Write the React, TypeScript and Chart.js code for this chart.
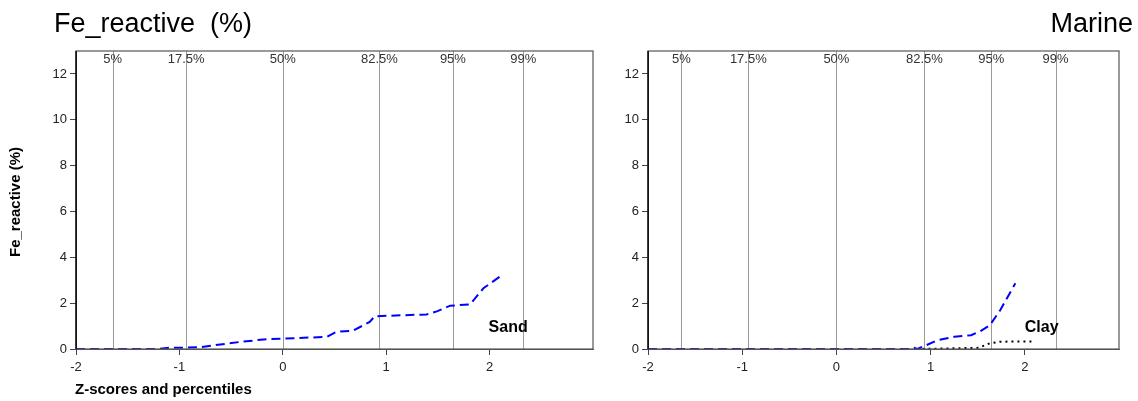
import React, { useEffect, useRef } from "react";
import { Chart, registerables } from "chart.js";

Chart.register(...registerables);

const FONT = "'Liberation Sans', Arial, Helvetica, sans-serif";

const mainTitle = "Fe_reactive  (%)";
const panelTitle = "Marine";
const yAxisTitle = "Fe_reactive (%)";
const xAxisTitle = "Z-scores and percentiles";

const percentileLabels = ["5%", "17.5%", "50%", "82.5%", "95%", "99%"];
const percentileZ = [-1.645, -0.935, 0, 0.935, 1.645, 2.326];

const xTicks = [-2, -1, 0, 1, 2];
const yTicks = [0, 2, 4, 6, 8, 10, 12];

// Sand (left panel)
const sandZ = [-2, -1.2, -1.1, -1.0, -0.8, -0.41, -0.155, 0, 0.425, 0.52, 0.68, 0.84, 0.89, 1.39, 1.49, 1.62, 1.81, 1.94, 2.1];
const sandV = [0, 0, 0.05, 0.05, 0.08, 0.31, 0.43, 0.45, 0.53, 0.75, 0.8, 1.18, 1.43, 1.51, 1.64, 1.89, 1.94, 2.65, 3.16];

// Clay (right panel), blue dashed
const clayZ = [-2, 0.78, 0.82, 0.86, 0.95, 1.07, 1.25, 1.43, 1.53, 1.63, 1.74, 1.9];
const clayV = [0, 0, 0.06, 0.0, 0.16, 0.38, 0.53, 0.6, 0.78, 1.04, 1.7, 2.87];

// Clay (right panel), black dotted
const clay2Z = [0.85, 1.51, 1.63, 1.74, 2.08];
const clay2V = [0, 0.05, 0.25, 0.32, 0.33];

function pts(xs: number[], ys: number[]) {
  return xs.map((x, i) => ({ x, y: ys[i] }));
}

type PanelProps = {
  width: number;
  height: number;
  yWidth: number;
  padRight: number;
  datasets: any[];
  label: string;
  labelX: number;
  labelY: number;
  left: boolean;
};

function Panel(p: PanelProps) {
  const ref = useRef<HTMLCanvasElement | null>(null);
  useEffect(() => {
    if (!ref.current) return;
    const overlay = {
      id: "overlay",
      beforeDatasetsDraw(chart: any) {
        const { ctx, chartArea: a, scales } = chart;
        const xs = scales.x;
        ctx.save();
        // percentile lines
        ctx.strokeStyle = "#9a9a9a";
        ctx.lineWidth = 1;
        percentileZ.forEach((z) => {
          const px = Math.round(xs.getPixelForValue(z)) + 0.5;
          ctx.beginPath();
          ctx.moveTo(px, a.top);
          ctx.lineTo(px, a.bottom);
          ctx.stroke();
        });
        ctx.fillStyle = "#333";
        ctx.font = `13px ${FONT}`;
        ctx.textAlign = "center";
        ctx.textBaseline = "middle";
        percentileZ.forEach((z, i) => {
          const px = xs.getPixelForValue(z);
          ctx.fillText(percentileLabels[i], px, a.top + 8);
        });
        ctx.restore();
      },
      afterDraw(chart: any) {
        const { ctx, chartArea: a, scales } = chart;
        ctx.save();
        // frame
        ctx.strokeStyle = "#555";
        ctx.lineWidth = 1.2;
        ctx.strokeRect(a.left, a.top, a.right - a.left, a.bottom - a.top);
        ctx.strokeStyle = "#000";
        ctx.beginPath();
        ctx.moveTo(a.left, a.top);
        ctx.lineTo(a.left, a.bottom);
        ctx.stroke();
        // label
        ctx.fillStyle = "#000";
        ctx.font = `bold 16px ${FONT}`;
        ctx.textAlign = "left";
        ctx.textBaseline = "middle";
        ctx.fillText(p.label, scales.x.getPixelForValue(p.labelX), scales.y.getPixelForValue(p.labelY));
        // titles
        ctx.font = `27px ${FONT}`;
        ctx.textBaseline = "alphabetic";
        if (p.left) {
          ctx.textAlign = "left";
          ctx.fillText(mainTitle, 54, 32);
          ctx.font = `bold 15px ${FONT}`;
          ctx.fillText(xAxisTitle, 75, 394);
          ctx.translate(20, 202);
          ctx.rotate(-Math.PI / 2);
          ctx.textAlign = "center";
          ctx.fillText(yAxisTitle, 0, 0);
        } else {
          ctx.textAlign = "right";
          ctx.fillText(panelTitle, p.width - 5, 32);
        }
        ctx.restore();
      },
    };
    const chart = new Chart(ref.current, {
      type: "line",
      data: { datasets: p.datasets },
      options: {
        animation: false,
        responsive: false,
        maintainAspectRatio: false,
        layout: { padding: { top: 51, right: p.padRight, left: 0, bottom: 0 } },
        plugins: { legend: { display: false }, tooltip: { enabled: false }, title: { display: false } },
        elements: { point: { radius: 0 }, line: { tension: 0 } },
        scales: {
          x: {
            type: "linear",
            min: -2,
            max: 3,
            afterBuildTicks: (s: any) => {
              s.ticks = xTicks.map((v) => ({ value: v }));
            },
            afterFit: (s: any) => {
              s.height = 52;
            },
            grid: { drawOnChartArea: false, drawTicks: true, tickLength: 6, color: "#444" },
            border: { display: true, color: "#555" },
            ticks: { font: { family: FONT, size: 13 }, color: "#222", padding: 5, maxRotation: 0 },
          },
          y: {
            type: "linear",
            min: 0,
            max: 13,
            afterBuildTicks: (s: any) => {
              s.ticks = yTicks.map((v) => ({ value: v }));
            },
            afterFit: (s: any) => {
              s.width = p.yWidth;
            },
            grid: { drawOnChartArea: false, drawTicks: true, tickLength: 6, color: "#444" },
            border: { display: true, color: "#000" },
            ticks: { font: { family: FONT, size: 13 }, color: "#222", padding: 3 },
          },
        },
      },
      plugins: [overlay],
    } as any);
    return () => chart.destroy();
  }, []);
  return (
    <div style={{ width: p.width, height: p.height, position: "relative" }}>
      <canvas ref={ref} width={p.width} height={p.height} style={{ display: "block" }} />
    </div>
  );
}

export default function App() {
  const blue = {
    borderColor: "#0000ff",
    borderWidth: 2,
    borderDash: [9, 5],
    fill: false,
    pointRadius: 0,
  };
  const leftSets = [{ ...blue, label: "Sand", data: pts(sandZ, sandV) }];
  const rightSets = [
    { ...blue, label: "Clay", data: pts(clayZ, clayV) },
    {
      label: "Clay2",
      data: pts(clay2Z, clay2V),
      borderColor: "#000",
      borderWidth: 2,
      borderDash: [2, 4],
      fill: false,
      pointRadius: 0,
    },
  ];
  return (
    <div style={{ position: "absolute", left: 0, top: 0, width: 1138, height: 401, display: "flex", background: "#fff" }}>
      <Panel width={600} height={401} yWidth={76} padRight={7} datasets={leftSets} label="Sand" labelX={1.99} labelY={0.95} left={true} />
      <Panel width={538} height={401} yWidth={48} padRight={19} datasets={rightSets} label="Clay" labelX={2.0} labelY={0.95} left={false} />
    </div>
  );
}
